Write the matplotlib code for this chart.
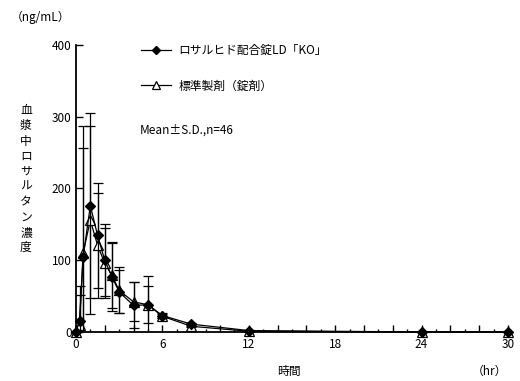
import matplotlib
matplotlib.use("Agg")
import matplotlib.pyplot as plt
from matplotlib.lines import Line2D
from matplotlib.ticker import MultipleLocator, FuncFormatter

plt.rcParams['font.family'] = ['Noto Sans CJK JP', 'DejaVu Sans']

# sampling times (hr)
time_hr = [0, 0.25, 0.5, 1, 1.5, 2, 2.5, 3, 4, 5, 6, 8, 12, 24, 30]

# test drug: mean and SD (ng/mL)
test_mean = [0, 15, 104, 176, 135, 100, 77, 56, 37, 38, 23, 11, 2, 0, 0]
test_sd = [0, 49, 153, 129, 73, 50, 48, 30, 32, 40, 3, 1, 1, 0, 0]

# reference drug: mean and SD (ng/mL)
ref_mean = [0, 10, 110, 156, 121, 96, 79, 58, 42, 38, 22, 8, 1, 0, 0]
ref_sd = [0, 42, 177, 131, 73, 49, 45, 32, 27, 26, 3, 1, 1, 0, 0]

test_label = "ロサルヒド配合錠LD「KO」"
ref_label = "標準製剤（錠剤）"
ylabel_text = "血漿中ロサルタン濃度"


def draw_series(ax, mean, sd, marker, ms, mfc, z):
    line, caps, bars = ax.errorbar(time_hr, mean, yerr=sd, color='black', lw=0.9,
                                   marker=marker, ms=ms, mfc=mfc, mec='black', mew=0.9,
                                   capsize=3.5, elinewidth=0.9, capthick=0.9, zorder=z)
    # markers may sit on the axes edge, error bars stay clipped at zero
    line.set_clip_on(False)


fig = plt.figure(figsize=(5.2, 3.81), dpi=100)
ax = fig.add_axes([0.146, 0.1286, 0.8308, 0.7533])

draw_series(ax, ref_mean, ref_sd, '^', 6.5, 'white', 3)
draw_series(ax, test_mean, test_sd, 'D', 5, 'black', 4)

ax.set_xlim(0, 30)
ax.set_ylim(0, 400)
ax.xaxis.set_major_locator(MultipleLocator(2))
ax.xaxis.set_major_formatter(FuncFormatter(lambda v, p: f"{v:.0f}" if round(v) % 6 == 0 else ""))
ax.xaxis.set_minor_locator(MultipleLocator(1))
ax.set_yticks([0, 100, 200, 300, 400])
ax.tick_params(axis='both', direction='in', labelsize=8.5, width=1, length=5)
ax.tick_params(axis='x', which='minor', direction='in', width=1, length=2.5)
ax.tick_params(axis='x', pad=4)
ax.tick_params(axis='y', pad=3)
for sp in ['top', 'right']:
    ax.spines[sp].set_visible(False)
for sp in ['left', 'bottom']:
    ax.spines[sp].set_linewidth(1.3)

fig.text(0.02, 0.955, "（ng/mL）", fontsize=8.5, va='center', ha='left')
fig.text(0.05, 0.53, "\n".join(ylabel_text), fontsize=8.5, va='center',
         ha='center', linespacing=1.22)
fig.text(0.555, 0.024, "時間", fontsize=8.5, va='center', ha='center')
fig.text(0.975, 0.024, "（hr）", fontsize=8.5, va='center', ha='right')

handles = [
    Line2D([], [], color='black', lw=0.9, marker='D', ms=4, mfc='black'),
    Line2D([], [], color='black', lw=0.9, marker='^', ms=6, mfc='white', mew=0.9),
]
leg = ax.legend(handles, [test_label, ref_label], loc='upper left',
                bbox_to_anchor=(0.125, 1.04), frameon=False, fontsize=8.5,
                handlelength=2.6, handletextpad=0.6, labelspacing=1.9)

ax.text(0.148, 0.705, "Mean±S.D.,n=46", transform=ax.transAxes,
        fontsize=8.5, va='center', ha='left')

fig.savefig("out.png", dpi=100)
